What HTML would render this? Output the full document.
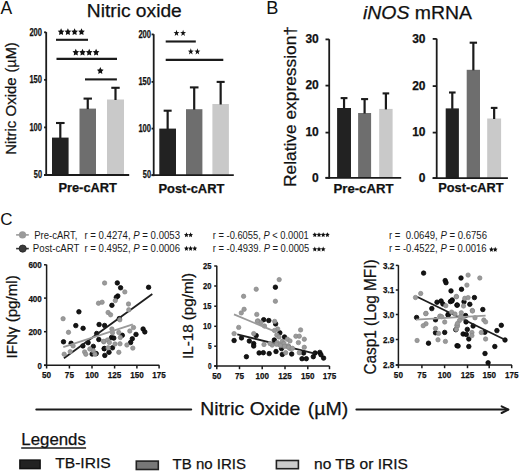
<!DOCTYPE html>
<html><head><meta charset="utf-8"><style>
html,body{margin:0;padding:0;background:#fff;}
svg{display:block;}
text{font-family:"Liberation Sans",sans-serif;stroke:#111;stroke-width:0.25px;paint-order:stroke;}
text.lg{stroke:none;}
</style></head><body>
<svg width="520" height="472" viewBox="0 0 520 472">
<rect width="520" height="472" fill="#fff"/>
<text x="0.6" y="13.7" font-size="17.5" font-weight="normal" text-anchor="start" class="lg" fill="#111" >A</text>
<text x="86.8" y="17.3" font-size="18.9" font-weight="normal" text-anchor="start" textLength="95" lengthAdjust="spacingAndGlyphs" fill="#111" >Nitric oxide</text>
<text transform="translate(16,154.8) rotate(-90)" x="0" y="0" font-size="15" font-weight="normal" fill="#111">Nitric Oxide</text>
<text transform="translate(16,72.6) rotate(-90)" x="0" y="0" font-size="15" font-weight="normal" textLength="30.2" lengthAdjust="spacingAndGlyphs" fill="#111">(µM)</text>
<rect x="52.0" y="137.6" width="16.59" height="37.40" fill="#222222"/>
<rect x="79.5" y="108.6" width="16.5" height="66.4" fill="#6e6e6e"/>
<rect x="107.0" y="99.5" width="17.0" height="75.5" fill="#c9c9c9"/>
<line x1="46.2" y1="32.09" x2="46.2" y2="175.9" stroke="#1b1b1b" stroke-width="1.8" stroke-linecap="butt"/>
<line x1="44.1" y1="175.0" x2="129.2" y2="175.0" stroke="#1b1b1b" stroke-width="1.8" stroke-linecap="butt"/>
<line x1="44.1" y1="32.3" x2="46.2" y2="32.3" stroke="#1b1b1b" stroke-width="1.8" stroke-linecap="butt"/>
<text x="42.0" y="35.5" font-size="10.2" font-weight="bold" text-anchor="end" textLength="12.6" lengthAdjust="spacingAndGlyphs" fill="#111" >200</text>
<line x1="44.1" y1="79.85" x2="46.2" y2="79.85" stroke="#1b1b1b" stroke-width="1.8" stroke-linecap="butt"/>
<text x="42.0" y="83.05" font-size="10.2" font-weight="bold" text-anchor="end" textLength="12.6" lengthAdjust="spacingAndGlyphs" fill="#111" >150</text>
<line x1="44.1" y1="127.4" x2="46.2" y2="127.4" stroke="#1b1b1b" stroke-width="1.8" stroke-linecap="butt"/>
<text x="42.0" y="130.6" font-size="10.2" font-weight="bold" text-anchor="end" textLength="12.6" lengthAdjust="spacingAndGlyphs" fill="#111" >100</text>
<line x1="44.1" y1="175.0" x2="46.2" y2="175.0" stroke="#1b1b1b" stroke-width="1.8" stroke-linecap="butt"/>
<text x="42.0" y="178.2" font-size="10.2" font-weight="bold" text-anchor="end" textLength="8.2" lengthAdjust="spacingAndGlyphs" fill="#111" >50</text>
<line x1="60.3" y1="123.0" x2="60.3" y2="138.1" stroke="#1b1b1b" stroke-width="2.2" stroke-linecap="butt"/>
<line x1="56.0" y1="123.0" x2="64.6" y2="123.0" stroke="#1b1b1b" stroke-width="2.1" stroke-linecap="butt"/>
<line x1="87.75" y1="98.6" x2="87.75" y2="109.1" stroke="#1b1b1b" stroke-width="2.2" stroke-linecap="butt"/>
<line x1="83.55" y1="98.6" x2="91.95" y2="98.6" stroke="#1b1b1b" stroke-width="2.1" stroke-linecap="butt"/>
<line x1="115.5" y1="87.8" x2="115.5" y2="100.0" stroke="#1b1b1b" stroke-width="2.2" stroke-linecap="butt"/>
<line x1="111.3" y1="87.8" x2="119.7" y2="87.8" stroke="#1b1b1b" stroke-width="2.1" stroke-linecap="butt"/>
<text x="58.4" y="192.3" font-size="12.9" font-weight="bold" text-anchor="start" textLength="58.6" lengthAdjust="spacingAndGlyphs" fill="#111" >Pre-cART</text>
<line x1="56" y1="39.8" x2="88" y2="39.8" stroke="#1b1b1b" stroke-width="2.1" stroke-linecap="butt"/>
<polygon points="61.10,28.15 62.13,30.44 64.43,30.81 62.76,32.59 63.16,35.11 61.10,33.92 59.04,35.11 59.44,32.59 57.77,30.81 60.07,30.44" fill="#111"/>
<polygon points="67.90,28.15 68.93,30.44 71.23,30.81 69.56,32.59 69.96,35.11 67.90,33.92 65.84,35.11 66.24,32.59 64.57,30.81 66.87,30.44" fill="#111"/>
<polygon points="74.60,28.15 75.63,30.44 77.93,30.81 76.26,32.59 76.66,35.11 74.60,33.92 72.54,35.11 72.94,32.59 71.27,30.81 73.57,30.44" fill="#111"/>
<polygon points="81.50,28.15 82.53,30.44 84.83,30.81 83.16,32.59 83.56,35.11 81.50,33.92 79.44,35.11 79.84,32.59 78.17,30.81 80.47,30.44" fill="#111"/>
<line x1="56.5" y1="58.9" x2="117" y2="58.9" stroke="#1b1b1b" stroke-width="2.1" stroke-linecap="butt"/>
<polygon points="75.80,48.65 76.83,50.94 79.13,51.31 77.46,53.09 77.86,55.61 75.80,54.42 73.74,55.61 74.14,53.09 72.47,51.31 74.77,50.94" fill="#111"/>
<polygon points="82.50,48.65 83.53,50.94 85.83,51.31 84.16,53.09 84.56,55.61 82.50,54.42 80.44,55.61 80.84,53.09 79.17,51.31 81.47,50.94" fill="#111"/>
<polygon points="89.20,48.65 90.23,50.94 92.53,51.31 90.86,53.09 91.26,55.61 89.20,54.42 87.14,55.61 87.54,53.09 85.87,51.31 88.17,50.94" fill="#111"/>
<polygon points="96.10,48.65 97.13,50.94 99.43,51.31 97.76,53.09 98.16,55.61 96.10,54.42 94.04,55.61 94.44,53.09 92.77,51.31 95.07,50.94" fill="#111"/>
<line x1="85" y1="79.4" x2="116.9" y2="79.4" stroke="#1b1b1b" stroke-width="2.1" stroke-linecap="butt"/>
<polygon points="100.30,67.05 101.33,69.34 103.63,69.71 101.96,71.49 102.36,74.01 100.30,72.82 98.24,74.01 98.64,71.49 96.97,69.71 99.27,69.34" fill="#111"/>
<rect x="159.3" y="128.6" width="16.69" height="46.59" fill="#222222"/>
<rect x="186.0" y="109.2" width="16.40" height="65.99" fill="#6e6e6e"/>
<rect x="212.4" y="104.0" width="16.5" height="71.19" fill="#c9c9c9"/>
<line x1="153.7" y1="34.19" x2="153.7" y2="176.1" stroke="#1b1b1b" stroke-width="1.8" stroke-linecap="butt"/>
<line x1="151.6" y1="175.2" x2="233.8" y2="175.2" stroke="#1b1b1b" stroke-width="1.8" stroke-linecap="butt"/>
<line x1="151.6" y1="34.4" x2="153.7" y2="34.4" stroke="#1b1b1b" stroke-width="1.8" stroke-linecap="butt"/>
<text x="151.0" y="37.6" font-size="10.2" font-weight="bold" text-anchor="end" textLength="12.6" lengthAdjust="spacingAndGlyphs" fill="#111" >200</text>
<line x1="151.6" y1="81.9" x2="153.7" y2="81.9" stroke="#1b1b1b" stroke-width="1.8" stroke-linecap="butt"/>
<text x="151.0" y="85.10" font-size="10.2" font-weight="bold" text-anchor="end" textLength="12.6" lengthAdjust="spacingAndGlyphs" fill="#111" >150</text>
<line x1="151.6" y1="128.6" x2="153.7" y2="128.6" stroke="#1b1b1b" stroke-width="1.8" stroke-linecap="butt"/>
<text x="151.0" y="131.79" font-size="10.2" font-weight="bold" text-anchor="end" textLength="12.6" lengthAdjust="spacingAndGlyphs" fill="#111" >100</text>
<line x1="151.6" y1="175.2" x2="153.7" y2="175.2" stroke="#1b1b1b" stroke-width="1.8" stroke-linecap="butt"/>
<text x="151.0" y="178.39" font-size="10.2" font-weight="bold" text-anchor="end" textLength="8.2" lengthAdjust="spacingAndGlyphs" fill="#111" >50</text>
<line x1="167.65" y1="110.7" x2="167.65" y2="129.1" stroke="#1b1b1b" stroke-width="2.2" stroke-linecap="butt"/>
<line x1="163.65" y1="110.7" x2="171.65" y2="110.7" stroke="#1b1b1b" stroke-width="2.1" stroke-linecap="butt"/>
<line x1="194.2" y1="87.4" x2="194.2" y2="109.7" stroke="#1b1b1b" stroke-width="2.2" stroke-linecap="butt"/>
<line x1="189.89" y1="87.4" x2="198.5" y2="87.4" stroke="#1b1b1b" stroke-width="2.1" stroke-linecap="butt"/>
<line x1="220.65" y1="81.9" x2="220.65" y2="104.5" stroke="#1b1b1b" stroke-width="2.2" stroke-linecap="butt"/>
<line x1="216.65" y1="81.9" x2="224.65" y2="81.9" stroke="#1b1b1b" stroke-width="2.1" stroke-linecap="butt"/>
<text x="158.5" y="193.2" font-size="12.9" font-weight="bold" text-anchor="start" textLength="65.8" lengthAdjust="spacingAndGlyphs" fill="#111" >Post-cART</text>
<line x1="165.7" y1="41.5" x2="195.8" y2="41.5" stroke="#1b1b1b" stroke-width="2.1" stroke-linecap="butt"/>
<polygon points="176.50,29.79 177.23,32.09 179.45,32.15 177.69,33.62 178.32,35.96 176.50,34.57 174.68,35.96 175.31,33.62 173.55,32.15 175.77,32.09" fill="#111"/>
<polygon points="183.10,29.79 183.83,32.09 186.05,32.15 184.29,33.62 184.92,35.96 183.10,34.57 181.28,35.96 181.91,33.62 180.15,32.15 182.37,32.09" fill="#111"/>
<line x1="165.7" y1="59.9" x2="223.3" y2="59.9" stroke="#1b1b1b" stroke-width="2.1" stroke-linecap="butt"/>
<polygon points="190.80,48.29 191.53,50.59 193.75,50.65 191.99,52.12 192.62,54.46 190.80,53.07 188.98,54.46 189.61,52.12 187.85,50.65 190.07,50.59" fill="#111"/>
<polygon points="197.40,48.29 198.13,50.59 200.35,50.65 198.59,52.12 199.22,54.46 197.40,53.07 195.58,54.46 196.21,52.12 194.45,50.65 196.67,50.59" fill="#111"/>
<text x="266.2" y="13.8" font-size="18.2" font-weight="normal" text-anchor="start" class="lg" fill="#111" >B</text>
<text x="363" y="18.7" font-size="19" fill="#111" textLength="109" lengthAdjust="spacingAndGlyphs"><tspan font-style="italic">iNOS</tspan> mRNA</text>
<text transform="translate(295.5,187.0) rotate(-90)" x="0" y="0" font-size="16.6" font-weight="normal" textLength="161" lengthAdjust="spacingAndGlyphs" fill="#111">Relative expression†</text>
<rect x="337.1" y="108.0" width="13.89" height="69.80" fill="#222222"/>
<rect x="358.1" y="113.0" width="13.0" height="64.80" fill="#6e6e6e"/>
<rect x="379.2" y="108.9" width="13.40" height="68.9" fill="#c9c9c9"/>
<line x1="329.2" y1="39.19" x2="329.2" y2="178.70" stroke="#1b1b1b" stroke-width="1.8" stroke-linecap="butt"/>
<line x1="325.5" y1="177.8" x2="401.2" y2="177.8" stroke="#1b1b1b" stroke-width="1.8" stroke-linecap="butt"/>
<line x1="325.5" y1="39.4" x2="329.2" y2="39.4" stroke="#1b1b1b" stroke-width="1.8" stroke-linecap="butt"/>
<text x="318.8" y="43.19" font-size="12" font-weight="bold" text-anchor="end" fill="#111" >30</text>
<line x1="325.5" y1="85.6" x2="329.2" y2="85.6" stroke="#1b1b1b" stroke-width="1.8" stroke-linecap="butt"/>
<text x="318.8" y="89.39" font-size="12" font-weight="bold" text-anchor="end" fill="#111" >20</text>
<line x1="325.5" y1="132.6" x2="329.2" y2="132.6" stroke="#1b1b1b" stroke-width="1.8" stroke-linecap="butt"/>
<text x="318.8" y="136.4" font-size="12" font-weight="bold" text-anchor="end" fill="#111" >10</text>
<line x1="325.5" y1="177.8" x2="329.2" y2="177.8" stroke="#1b1b1b" stroke-width="1.8" stroke-linecap="butt"/>
<text x="318.8" y="181.60" font-size="12" font-weight="bold" text-anchor="end" fill="#111" >0</text>
<line x1="344.05" y1="98.1" x2="344.05" y2="108.5" stroke="#1b1b1b" stroke-width="2.2" stroke-linecap="butt"/>
<line x1="340.65" y1="98.1" x2="347.45" y2="98.1" stroke="#1b1b1b" stroke-width="2.1" stroke-linecap="butt"/>
<line x1="364.6" y1="99.1" x2="364.6" y2="113.5" stroke="#1b1b1b" stroke-width="2.2" stroke-linecap="butt"/>
<line x1="361.1" y1="99.1" x2="368.1" y2="99.1" stroke="#1b1b1b" stroke-width="2.1" stroke-linecap="butt"/>
<line x1="385.9" y1="93.4" x2="385.9" y2="109.4" stroke="#1b1b1b" stroke-width="2.2" stroke-linecap="butt"/>
<line x1="382.59" y1="93.4" x2="389.2" y2="93.4" stroke="#1b1b1b" stroke-width="2.1" stroke-linecap="butt"/>
<text x="333.5" y="193.2" font-size="13" font-weight="bold" text-anchor="start" textLength="60" lengthAdjust="spacingAndGlyphs" fill="#111" >Pre-cART</text>
<rect x="445.7" y="108.4" width="13.19" height="69.69" fill="#222222"/>
<rect x="466.7" y="69.8" width="13.30" height="108.3" fill="#6e6e6e"/>
<rect x="487.2" y="118.5" width="13.90" height="59.59" fill="#c9c9c9"/>
<line x1="436.7" y1="38.69" x2="436.7" y2="179.0" stroke="#1b1b1b" stroke-width="1.8" stroke-linecap="butt"/>
<line x1="432.7" y1="178.1" x2="507.9" y2="178.1" stroke="#1b1b1b" stroke-width="1.8" stroke-linecap="butt"/>
<line x1="432.7" y1="38.9" x2="436.7" y2="38.9" stroke="#1b1b1b" stroke-width="1.8" stroke-linecap="butt"/>
<text x="425.5" y="42.69" font-size="12" font-weight="bold" text-anchor="end" fill="#111" >30</text>
<line x1="432.7" y1="86.1" x2="436.7" y2="86.1" stroke="#1b1b1b" stroke-width="1.8" stroke-linecap="butt"/>
<text x="425.5" y="89.89" font-size="12" font-weight="bold" text-anchor="end" fill="#111" >20</text>
<line x1="432.7" y1="132.6" x2="436.7" y2="132.6" stroke="#1b1b1b" stroke-width="1.8" stroke-linecap="butt"/>
<text x="425.5" y="136.4" font-size="12" font-weight="bold" text-anchor="end" fill="#111" >10</text>
<line x1="432.7" y1="178.1" x2="436.7" y2="178.1" stroke="#1b1b1b" stroke-width="1.8" stroke-linecap="butt"/>
<text x="425.5" y="181.9" font-size="12" font-weight="bold" text-anchor="end" fill="#111" >0</text>
<line x1="452.29" y1="92.5" x2="452.29" y2="108.9" stroke="#1b1b1b" stroke-width="2.2" stroke-linecap="butt"/>
<line x1="448.99" y1="92.5" x2="455.59" y2="92.5" stroke="#1b1b1b" stroke-width="2.1" stroke-linecap="butt"/>
<line x1="473.35" y1="42.7" x2="473.35" y2="70.3" stroke="#1b1b1b" stroke-width="2.2" stroke-linecap="butt"/>
<line x1="469.65" y1="42.7" x2="477.05" y2="42.7" stroke="#1b1b1b" stroke-width="2.1" stroke-linecap="butt"/>
<line x1="494.15" y1="107.9" x2="494.15" y2="119.0" stroke="#1b1b1b" stroke-width="2.2" stroke-linecap="butt"/>
<line x1="490.84" y1="107.9" x2="497.45" y2="107.9" stroke="#1b1b1b" stroke-width="2.1" stroke-linecap="butt"/>
<text x="438.3" y="192.3" font-size="12.9" font-weight="bold" text-anchor="start" textLength="65.2" lengthAdjust="spacingAndGlyphs" fill="#111" >Post-cART</text>
<text x="0.3" y="225.3" font-size="17" font-weight="normal" text-anchor="start" class="lg" fill="#111" >C</text>
<line x1="16.1" y1="234.9" x2="28.8" y2="234.9" stroke="#9a9a9a" stroke-width="1.6" stroke-linecap="butt"/>
<circle cx="22.5" cy="234.9" r="3.6" fill="#9a9a9a"/>
<line x1="16.1" y1="248.6" x2="28.8" y2="248.6" stroke="#333" stroke-width="1.6" stroke-linecap="butt"/>
<circle cx="22.7" cy="248.6" r="3.6" fill="#3a3a3a" stroke="#222" stroke-width="0.8"/>
<text x="34.3" y="238.6" font-size="10.4" font-weight="normal" text-anchor="start" textLength="43" lengthAdjust="spacingAndGlyphs" class="lg" fill="#1a1a1a" >Pre-cART,</text>
<text x="32.8" y="252.4" font-size="10.4" font-weight="normal" text-anchor="start" textLength="46.6" lengthAdjust="spacingAndGlyphs" class="lg" fill="#1a1a1a" >Post-cART</text>
<text x="84.4" y="238.6" font-size="10.4" font-weight="normal" text-anchor="start" textLength="95.6" lengthAdjust="spacingAndGlyphs" class="lg" fill="#1a1a1a" >r = 0.4274, <tspan font-style="italic">P</tspan> = 0.0053</text>
<text x="84.4" y="252.2" font-size="10.4" font-weight="normal" text-anchor="start" textLength="95.6" lengthAdjust="spacingAndGlyphs" class="lg" fill="#1a1a1a" >r = 0.4952, <tspan font-style="italic">P</tspan> = 0.0006</text>
<polygon points="186.40,232.25 187.11,233.93 188.78,234.15 187.54,235.41 187.87,237.22 186.40,236.32 184.93,237.22 185.26,235.41 184.02,234.15 185.69,233.93" fill="#111"/>
<polygon points="190.60,232.25 191.31,233.93 192.98,234.15 191.74,235.41 192.07,237.22 190.60,236.32 189.13,237.22 189.46,235.41 188.22,234.15 189.89,233.93" fill="#111"/>
<polygon points="186.40,245.85 187.11,247.53 188.78,247.75 187.54,249.01 187.87,250.82 186.40,249.92 184.93,250.82 185.26,249.01 184.02,247.75 185.69,247.53" fill="#111"/>
<polygon points="190.60,245.85 191.31,247.53 192.98,247.75 191.74,249.01 192.07,250.82 190.60,249.92 189.13,250.82 189.46,249.01 188.22,247.75 189.89,247.53" fill="#111"/>
<polygon points="194.80,245.85 195.51,247.53 197.18,247.75 195.94,249.01 196.27,250.82 194.80,249.92 193.33,250.82 193.66,249.01 192.42,247.75 194.09,247.53" fill="#111"/>
<text x="212.8" y="238.8" font-size="10.4" font-weight="normal" text-anchor="start" textLength="96" lengthAdjust="spacingAndGlyphs" class="lg" fill="#1a1a1a" >r = -0.6055, <tspan font-style="italic">P</tspan> &lt; 0.0001</text>
<text x="212.8" y="252.4" font-size="10.4" font-weight="normal" text-anchor="start" textLength="96.5" lengthAdjust="spacingAndGlyphs" class="lg" fill="#1a1a1a" >r = -0.4939. <tspan font-style="italic">P</tspan> = 0.0005</text>
<polygon points="314.80,232.15 315.51,233.83 317.18,234.05 315.94,235.31 316.27,237.12 314.80,236.22 313.33,237.12 313.66,235.31 312.42,234.05 314.09,233.83" fill="#111"/>
<polygon points="319.00,232.15 319.71,233.83 321.38,234.05 320.14,235.31 320.47,237.12 319.00,236.22 317.53,237.12 317.86,235.31 316.62,234.05 318.29,233.83" fill="#111"/>
<polygon points="323.20,232.15 323.91,233.83 325.58,234.05 324.34,235.31 324.67,237.12 323.20,236.22 321.73,237.12 322.06,235.31 320.82,234.05 322.49,233.83" fill="#111"/>
<polygon points="327.40,232.15 328.11,233.83 329.78,234.05 328.54,235.31 328.87,237.12 327.40,236.22 325.93,237.12 326.26,235.31 325.02,234.05 326.69,233.83" fill="#111"/>
<polygon points="314.80,246.55 315.51,248.23 317.18,248.45 315.94,249.71 316.27,251.52 314.80,250.62 313.33,251.52 313.66,249.71 312.42,248.45 314.09,248.23" fill="#111"/>
<polygon points="319.00,246.55 319.71,248.23 321.38,248.45 320.14,249.71 320.47,251.52 319.00,250.62 317.53,251.52 317.86,249.71 316.62,248.45 318.29,248.23" fill="#111"/>
<polygon points="323.20,246.55 323.91,248.23 325.58,248.45 324.34,249.71 324.67,251.52 323.20,250.62 321.73,251.52 322.06,249.71 320.82,248.45 322.49,248.23" fill="#111"/>
<text x="389.0" y="239.3" font-size="10.4" font-weight="normal" text-anchor="start" textLength="98" lengthAdjust="spacingAndGlyphs" class="lg" fill="#1a1a1a" >r =&#160; 0.0649, <tspan font-style="italic">P</tspan> = 0.6756</text>
<text x="389.0" y="252.4" font-size="10.4" font-weight="normal" text-anchor="start" textLength="97.5" lengthAdjust="spacingAndGlyphs" class="lg" fill="#1a1a1a" >r = -0.4522, <tspan font-style="italic">P</tspan> = 0.0016</text>
<polygon points="491.40,246.85 492.11,248.53 493.78,248.75 492.54,250.01 492.87,251.82 491.40,250.92 489.93,251.82 490.26,250.01 489.02,248.75 490.69,248.53" fill="#111"/>
<polygon points="495.20,246.85 495.91,248.53 497.58,248.75 496.34,250.01 496.67,251.82 495.20,250.92 493.73,251.82 494.06,250.01 492.82,248.75 494.49,248.53" fill="#111"/>
<text transform="translate(17.3,358.5) rotate(-90)" x="0" y="0" font-size="14.8" font-weight="normal" textLength="83.2" lengthAdjust="spacingAndGlyphs" fill="#111">IFNγ (pg/ml)</text>
<line x1="46.6" y1="264.6" x2="46.6" y2="366.0" stroke="#1b1b1b" stroke-width="1.5" stroke-linecap="butt"/>
<line x1="44.0" y1="365.3" x2="159.3" y2="365.3" stroke="#1b1b1b" stroke-width="1.5" stroke-linecap="butt"/>
<line x1="44.0" y1="264.8" x2="46.6" y2="264.8" stroke="#1b1b1b" stroke-width="1.5" stroke-linecap="butt"/>
<text x="41.8" y="268.25" font-size="9.6" font-weight="bold" text-anchor="end" textLength="13.4" lengthAdjust="spacingAndGlyphs" fill="#111" >600</text>
<line x1="44.0" y1="298.1" x2="46.6" y2="298.1" stroke="#1b1b1b" stroke-width="1.5" stroke-linecap="butt"/>
<text x="41.8" y="301.55" font-size="9.6" font-weight="bold" text-anchor="end" textLength="13.4" lengthAdjust="spacingAndGlyphs" fill="#111" >400</text>
<line x1="44.0" y1="331.7" x2="46.6" y2="331.7" stroke="#1b1b1b" stroke-width="1.5" stroke-linecap="butt"/>
<text x="41.8" y="335.15" font-size="9.6" font-weight="bold" text-anchor="end" textLength="13.4" lengthAdjust="spacingAndGlyphs" fill="#111" >200</text>
<line x1="44.0" y1="365.3" x2="46.6" y2="365.3" stroke="#1b1b1b" stroke-width="1.5" stroke-linecap="butt"/>
<text x="41.8" y="368.75" font-size="9.6" font-weight="bold" text-anchor="end" textLength="4.4" lengthAdjust="spacingAndGlyphs" fill="#111" >0</text>
<line x1="46.6" y1="365.3" x2="46.6" y2="368.5" stroke="#1b1b1b" stroke-width="1.5" stroke-linecap="butt"/>
<text x="46.6" y="378.40" font-size="9.6" font-weight="bold" text-anchor="middle" textLength="9.10" lengthAdjust="spacingAndGlyphs" fill="#111" >50</text>
<line x1="69.4" y1="365.3" x2="69.4" y2="368.5" stroke="#1b1b1b" stroke-width="1.5" stroke-linecap="butt"/>
<text x="69.4" y="378.40" font-size="9.6" font-weight="bold" text-anchor="middle" textLength="9.10" lengthAdjust="spacingAndGlyphs" fill="#111" >75</text>
<line x1="92.0" y1="365.3" x2="92.0" y2="368.5" stroke="#1b1b1b" stroke-width="1.5" stroke-linecap="butt"/>
<text x="92.0" y="378.40" font-size="9.6" font-weight="bold" text-anchor="middle" textLength="13.50" lengthAdjust="spacingAndGlyphs" fill="#111" >100</text>
<line x1="114.6" y1="365.3" x2="114.6" y2="368.5" stroke="#1b1b1b" stroke-width="1.5" stroke-linecap="butt"/>
<text x="114.6" y="378.40" font-size="9.6" font-weight="bold" text-anchor="middle" textLength="13.50" lengthAdjust="spacingAndGlyphs" fill="#111" >125</text>
<line x1="136.9" y1="365.3" x2="136.9" y2="368.5" stroke="#1b1b1b" stroke-width="1.5" stroke-linecap="butt"/>
<text x="136.9" y="378.40" font-size="9.6" font-weight="bold" text-anchor="middle" textLength="13.50" lengthAdjust="spacingAndGlyphs" fill="#111" >150</text>
<line x1="159.1" y1="365.3" x2="159.1" y2="368.5" stroke="#1b1b1b" stroke-width="1.5" stroke-linecap="butt"/>
<text x="159.1" y="378.40" font-size="9.6" font-weight="bold" text-anchor="middle" textLength="13.50" lengthAdjust="spacingAndGlyphs" fill="#111" >175</text>
<circle cx="117.3" cy="282.9" r="2.25" fill="#151515" stroke="#050505" stroke-width="0.8"/>
<circle cx="120.6" cy="287.8" r="2.25" fill="#151515" stroke="#050505" stroke-width="0.8"/>
<circle cx="148.6" cy="287.3" r="2.25" fill="#151515" stroke="#050505" stroke-width="0.8"/>
<circle cx="117.8" cy="296" r="2.25" fill="#151515" stroke="#050505" stroke-width="0.8"/>
<circle cx="116.3" cy="297.3" r="2.25" fill="#151515" stroke="#050505" stroke-width="0.8"/>
<circle cx="111.9" cy="305.3" r="2.25" fill="#151515" stroke="#050505" stroke-width="0.8"/>
<circle cx="119.3" cy="318.6" r="2.25" fill="#151515" stroke="#050505" stroke-width="0.8"/>
<circle cx="78.9" cy="311.8" r="2.25" fill="#151515" stroke="#050505" stroke-width="0.8"/>
<circle cx="75.8" cy="325.6" r="2.25" fill="#151515" stroke="#050505" stroke-width="0.8"/>
<circle cx="83.1" cy="328.3" r="2.25" fill="#151515" stroke="#050505" stroke-width="0.8"/>
<circle cx="99.1" cy="324.5" r="2.25" fill="#151515" stroke="#050505" stroke-width="0.8"/>
<circle cx="104.6" cy="325.5" r="2.25" fill="#151515" stroke="#050505" stroke-width="0.8"/>
<circle cx="96.7" cy="333.5" r="2.25" fill="#151515" stroke="#050505" stroke-width="0.8"/>
<circle cx="98.8" cy="339.5" r="2.25" fill="#151515" stroke="#050505" stroke-width="0.8"/>
<circle cx="63.5" cy="341.8" r="2.25" fill="#151515" stroke="#050505" stroke-width="0.8"/>
<circle cx="71.1" cy="343.3" r="2.25" fill="#151515" stroke="#050505" stroke-width="0.8"/>
<circle cx="88.1" cy="342.7" r="2.25" fill="#151515" stroke="#050505" stroke-width="0.8"/>
<circle cx="82.9" cy="345.9" r="2.25" fill="#151515" stroke="#050505" stroke-width="0.8"/>
<circle cx="93.3" cy="346.4" r="2.25" fill="#151515" stroke="#050505" stroke-width="0.8"/>
<circle cx="92.1" cy="354" r="2.25" fill="#151515" stroke="#050505" stroke-width="0.8"/>
<circle cx="96.2" cy="353.6" r="2.25" fill="#151515" stroke="#050505" stroke-width="0.8"/>
<circle cx="104.2" cy="348.7" r="2.25" fill="#151515" stroke="#050505" stroke-width="0.8"/>
<circle cx="104.8" cy="355.4" r="2.25" fill="#151515" stroke="#050505" stroke-width="0.8"/>
<circle cx="143.1" cy="329" r="2.25" fill="#151515" stroke="#050505" stroke-width="0.8"/>
<circle cx="144.8" cy="331.9" r="2.25" fill="#151515" stroke="#050505" stroke-width="0.8"/>
<circle cx="122.3" cy="335.3" r="2.25" fill="#151515" stroke="#050505" stroke-width="0.8"/>
<circle cx="136" cy="334.4" r="2.25" fill="#151515" stroke="#050505" stroke-width="0.8"/>
<circle cx="111.5" cy="337.5" r="2.25" fill="#151515" stroke="#050505" stroke-width="0.8"/>
<circle cx="113.8" cy="338.1" r="2.25" fill="#151515" stroke="#050505" stroke-width="0.8"/>
<circle cx="132.3" cy="338.8" r="2.25" fill="#151515" stroke="#050505" stroke-width="0.8"/>
<circle cx="130.6" cy="342.5" r="2.25" fill="#151515" stroke="#050505" stroke-width="0.8"/>
<circle cx="112.5" cy="347.8" r="2.25" fill="#151515" stroke="#050505" stroke-width="0.8"/>
<circle cx="104.4" cy="348.5" r="2.25" fill="#151515" stroke="#050505" stroke-width="0.8"/>
<circle cx="109" cy="352.3" r="2.25" fill="#151515" stroke="#050505" stroke-width="0.8"/>
<line x1="63.9" y1="358.3" x2="152.3" y2="294.1" stroke="#1e1e1e" stroke-width="1.8" stroke-linecap="butt"/>
<circle cx="104.6" cy="283" r="2.2" fill="#9a9a9a" stroke="#888" stroke-width="0.7"/>
<circle cx="98.5" cy="303.2" r="2.2" fill="#9a9a9a" stroke="#888" stroke-width="0.7"/>
<circle cx="102.1" cy="302.2" r="2.2" fill="#9a9a9a" stroke="#888" stroke-width="0.7"/>
<circle cx="63.1" cy="318.7" r="2.2" fill="#9a9a9a" stroke="#888" stroke-width="0.7"/>
<circle cx="124.8" cy="291.9" r="2.2" fill="#9a9a9a" stroke="#888" stroke-width="0.7"/>
<circle cx="115.3" cy="300.6" r="2.2" fill="#9a9a9a" stroke="#888" stroke-width="0.7"/>
<circle cx="128.5" cy="304" r="2.2" fill="#9a9a9a" stroke="#888" stroke-width="0.7"/>
<circle cx="128.8" cy="309.8" r="2.2" fill="#9a9a9a" stroke="#888" stroke-width="0.7"/>
<circle cx="108.1" cy="312.5" r="2.2" fill="#9a9a9a" stroke="#888" stroke-width="0.7"/>
<circle cx="110.6" cy="314.8" r="2.2" fill="#9a9a9a" stroke="#888" stroke-width="0.7"/>
<circle cx="68.5" cy="332.3" r="2.2" fill="#9a9a9a" stroke="#888" stroke-width="0.7"/>
<circle cx="73.1" cy="345.9" r="2.2" fill="#9a9a9a" stroke="#888" stroke-width="0.7"/>
<circle cx="84.6" cy="351.9" r="2.2" fill="#9a9a9a" stroke="#888" stroke-width="0.7"/>
<circle cx="89.8" cy="349" r="2.2" fill="#9a9a9a" stroke="#888" stroke-width="0.7"/>
<circle cx="93.3" cy="350.8" r="2.2" fill="#9a9a9a" stroke="#888" stroke-width="0.7"/>
<circle cx="85.8" cy="354.2" r="2.2" fill="#9a9a9a" stroke="#888" stroke-width="0.7"/>
<circle cx="95" cy="354.2" r="2.2" fill="#9a9a9a" stroke="#888" stroke-width="0.7"/>
<circle cx="70.2" cy="351.7" r="2.2" fill="#9a9a9a" stroke="#888" stroke-width="0.7"/>
<circle cx="64.2" cy="354.2" r="2.2" fill="#9a9a9a" stroke="#888" stroke-width="0.7"/>
<circle cx="103.7" cy="341.8" r="2.2" fill="#9a9a9a" stroke="#888" stroke-width="0.7"/>
<circle cx="119.8" cy="319.8" r="2.2" fill="#9a9a9a" stroke="#888" stroke-width="0.7"/>
<circle cx="111.9" cy="329" r="2.2" fill="#9a9a9a" stroke="#888" stroke-width="0.7"/>
<circle cx="133.5" cy="327.5" r="2.2" fill="#9a9a9a" stroke="#888" stroke-width="0.7"/>
<circle cx="129.8" cy="331" r="2.2" fill="#9a9a9a" stroke="#888" stroke-width="0.7"/>
<circle cx="112.5" cy="332.8" r="2.2" fill="#9a9a9a" stroke="#888" stroke-width="0.7"/>
<circle cx="118.8" cy="332.5" r="2.2" fill="#9a9a9a" stroke="#888" stroke-width="0.7"/>
<circle cx="120.3" cy="337.5" r="2.2" fill="#9a9a9a" stroke="#888" stroke-width="0.7"/>
<circle cx="103.8" cy="341.3" r="2.2" fill="#9a9a9a" stroke="#888" stroke-width="0.7"/>
<circle cx="107.5" cy="340" r="2.2" fill="#9a9a9a" stroke="#888" stroke-width="0.7"/>
<circle cx="109.4" cy="342.5" r="2.2" fill="#9a9a9a" stroke="#888" stroke-width="0.7"/>
<circle cx="115" cy="344" r="2.2" fill="#9a9a9a" stroke="#888" stroke-width="0.7"/>
<circle cx="120" cy="343.8" r="2.2" fill="#9a9a9a" stroke="#888" stroke-width="0.7"/>
<circle cx="126.9" cy="345" r="2.2" fill="#9a9a9a" stroke="#888" stroke-width="0.7"/>
<circle cx="108.1" cy="347.8" r="2.2" fill="#9a9a9a" stroke="#888" stroke-width="0.7"/>
<circle cx="132.8" cy="348.1" r="2.2" fill="#9a9a9a" stroke="#888" stroke-width="0.7"/>
<circle cx="118.8" cy="352.3" r="2.2" fill="#9a9a9a" stroke="#888" stroke-width="0.7"/>
<line x1="63.3" y1="347.1" x2="132.8" y2="324.4" stroke="#9a9a9a" stroke-width="1.8" stroke-linecap="butt"/>
<text transform="translate(193.3,359.0) rotate(-90)" x="0" y="0" font-size="15" font-weight="normal" textLength="86" lengthAdjust="spacingAndGlyphs" fill="#111">IL-18 (pg/ml)</text>
<line x1="216.8" y1="265.8" x2="216.8" y2="366.7" stroke="#1b1b1b" stroke-width="1.5" stroke-linecap="butt"/>
<line x1="214.20" y1="366.0" x2="329.5" y2="366.0" stroke="#1b1b1b" stroke-width="1.5" stroke-linecap="butt"/>
<line x1="214.20" y1="266.0" x2="216.8" y2="266.0" stroke="#1b1b1b" stroke-width="1.5" stroke-linecap="butt"/>
<text x="211.5" y="269.16" font-size="8.8" font-weight="bold" text-anchor="end" textLength="8.4" lengthAdjust="spacingAndGlyphs" fill="#111" >25</text>
<line x1="214.20" y1="286.0" x2="216.8" y2="286.0" stroke="#1b1b1b" stroke-width="1.5" stroke-linecap="butt"/>
<text x="211.5" y="289.16" font-size="8.8" font-weight="bold" text-anchor="end" textLength="8.4" lengthAdjust="spacingAndGlyphs" fill="#111" >20</text>
<line x1="214.20" y1="306.2" x2="216.8" y2="306.2" stroke="#1b1b1b" stroke-width="1.5" stroke-linecap="butt"/>
<text x="211.5" y="309.36" font-size="8.8" font-weight="bold" text-anchor="end" textLength="8.4" lengthAdjust="spacingAndGlyphs" fill="#111" >15</text>
<line x1="214.20" y1="326.3" x2="216.8" y2="326.3" stroke="#1b1b1b" stroke-width="1.5" stroke-linecap="butt"/>
<text x="211.5" y="329.46" font-size="8.8" font-weight="bold" text-anchor="end" textLength="8.4" lengthAdjust="spacingAndGlyphs" fill="#111" >10</text>
<line x1="214.20" y1="346.2" x2="216.8" y2="346.2" stroke="#1b1b1b" stroke-width="1.5" stroke-linecap="butt"/>
<text x="211.5" y="349.36" font-size="8.8" font-weight="bold" text-anchor="end" textLength="3.6" lengthAdjust="spacingAndGlyphs" fill="#111" >5</text>
<line x1="214.20" y1="366.0" x2="216.8" y2="366.0" stroke="#1b1b1b" stroke-width="1.5" stroke-linecap="butt"/>
<text x="211.5" y="369.16" font-size="8.8" font-weight="bold" text-anchor="end" textLength="3.6" lengthAdjust="spacingAndGlyphs" fill="#111" >0</text>
<line x1="216.8" y1="366.0" x2="216.8" y2="369.2" stroke="#1b1b1b" stroke-width="1.5" stroke-linecap="butt"/>
<text x="216.8" y="379.1" font-size="9.6" font-weight="bold" text-anchor="middle" textLength="9.10" lengthAdjust="spacingAndGlyphs" fill="#111" >50</text>
<line x1="239.5" y1="366.0" x2="239.5" y2="369.2" stroke="#1b1b1b" stroke-width="1.5" stroke-linecap="butt"/>
<text x="239.5" y="379.1" font-size="9.6" font-weight="bold" text-anchor="middle" textLength="9.10" lengthAdjust="spacingAndGlyphs" fill="#111" >75</text>
<line x1="262.2" y1="366.0" x2="262.2" y2="369.2" stroke="#1b1b1b" stroke-width="1.5" stroke-linecap="butt"/>
<text x="262.2" y="379.1" font-size="9.6" font-weight="bold" text-anchor="middle" textLength="13.50" lengthAdjust="spacingAndGlyphs" fill="#111" >100</text>
<line x1="285.0" y1="366.0" x2="285.0" y2="369.2" stroke="#1b1b1b" stroke-width="1.5" stroke-linecap="butt"/>
<text x="285.0" y="379.1" font-size="9.6" font-weight="bold" text-anchor="middle" textLength="13.50" lengthAdjust="spacingAndGlyphs" fill="#111" >125</text>
<line x1="307.8" y1="366.0" x2="307.8" y2="369.2" stroke="#1b1b1b" stroke-width="1.5" stroke-linecap="butt"/>
<text x="307.8" y="379.1" font-size="9.6" font-weight="bold" text-anchor="middle" textLength="13.50" lengthAdjust="spacingAndGlyphs" fill="#111" >150</text>
<line x1="329.5" y1="366.0" x2="329.5" y2="369.2" stroke="#1b1b1b" stroke-width="1.5" stroke-linecap="butt"/>
<text x="329.5" y="379.1" font-size="9.6" font-weight="bold" text-anchor="middle" textLength="13.50" lengthAdjust="spacingAndGlyphs" fill="#111" >175</text>
<circle cx="275.4" cy="287.2" r="2.25" fill="#151515" stroke="#050505" stroke-width="0.8"/>
<circle cx="256.2" cy="335.6" r="2.25" fill="#151515" stroke="#050505" stroke-width="0.8"/>
<circle cx="241.5" cy="337.9" r="2.25" fill="#151515" stroke="#050505" stroke-width="0.8"/>
<circle cx="234.1" cy="340.5" r="2.25" fill="#151515" stroke="#050505" stroke-width="0.8"/>
<circle cx="249.3" cy="341" r="2.25" fill="#151515" stroke="#050505" stroke-width="0.8"/>
<circle cx="253.7" cy="343.6" r="2.25" fill="#151515" stroke="#050505" stroke-width="0.8"/>
<circle cx="253.7" cy="346" r="2.25" fill="#151515" stroke="#050505" stroke-width="0.8"/>
<circle cx="259.1" cy="352.9" r="2.25" fill="#151515" stroke="#050505" stroke-width="0.8"/>
<circle cx="246.4" cy="356.7" r="2.25" fill="#151515" stroke="#050505" stroke-width="0.8"/>
<circle cx="303.6" cy="353" r="2.25" fill="#151515" stroke="#050505" stroke-width="0.8"/>
<circle cx="302" cy="358.7" r="2.25" fill="#151515" stroke="#050505" stroke-width="0.8"/>
<circle cx="306.3" cy="358.7" r="2.25" fill="#151515" stroke="#050505" stroke-width="0.8"/>
<circle cx="315.1" cy="353" r="2.25" fill="#151515" stroke="#050505" stroke-width="0.8"/>
<circle cx="319.8" cy="352.4" r="2.25" fill="#151515" stroke="#050505" stroke-width="0.8"/>
<circle cx="313.3" cy="356.7" r="2.25" fill="#151515" stroke="#050505" stroke-width="0.8"/>
<circle cx="323.6" cy="358.1" r="2.25" fill="#151515" stroke="#050505" stroke-width="0.8"/>
<circle cx="320.9" cy="354.7" r="2.25" fill="#151515" stroke="#050505" stroke-width="0.8"/>
<circle cx="268.8" cy="320.5" r="2.25" fill="#151515" stroke="#050505" stroke-width="0.8"/>
<circle cx="263.7" cy="319.7" r="2.25" fill="#151515" stroke="#050505" stroke-width="0.8"/>
<circle cx="275.6" cy="323.9" r="2.25" fill="#151515" stroke="#050505" stroke-width="0.8"/>
<circle cx="279.8" cy="332.8" r="2.25" fill="#151515" stroke="#050505" stroke-width="0.8"/>
<circle cx="284.5" cy="337" r="2.25" fill="#151515" stroke="#050505" stroke-width="0.8"/>
<circle cx="274.3" cy="340" r="2.25" fill="#151515" stroke="#050505" stroke-width="0.8"/>
<circle cx="276" cy="351.5" r="2.25" fill="#151515" stroke="#050505" stroke-width="0.8"/>
<circle cx="281.5" cy="348.5" r="2.25" fill="#151515" stroke="#050505" stroke-width="0.8"/>
<circle cx="282.3" cy="354.4" r="2.25" fill="#151515" stroke="#050505" stroke-width="0.8"/>
<circle cx="269.2" cy="353.6" r="2.25" fill="#151515" stroke="#050505" stroke-width="0.8"/>
<circle cx="263.3" cy="352.7" r="2.25" fill="#151515" stroke="#050505" stroke-width="0.8"/>
<circle cx="291.7" cy="354" r="2.25" fill="#151515" stroke="#050505" stroke-width="0.8"/>
<circle cx="288.3" cy="346.4" r="2.25" fill="#151515" stroke="#050505" stroke-width="0.8"/>
<line x1="237.3" y1="334.4" x2="315.0" y2="353.7" stroke="#1e1e1e" stroke-width="1.8" stroke-linecap="butt"/>
<circle cx="243.6" cy="296.3" r="2.2" fill="#9a9a9a" stroke="#888" stroke-width="0.7"/>
<circle cx="256.2" cy="289.2" r="2.2" fill="#9a9a9a" stroke="#888" stroke-width="0.7"/>
<circle cx="279.2" cy="279.6" r="2.2" fill="#9a9a9a" stroke="#888" stroke-width="0.7"/>
<circle cx="275.4" cy="301.2" r="2.2" fill="#9a9a9a" stroke="#888" stroke-width="0.7"/>
<circle cx="244.1" cy="309.3" r="2.2" fill="#9a9a9a" stroke="#888" stroke-width="0.7"/>
<circle cx="241.3" cy="312.9" r="2.2" fill="#9a9a9a" stroke="#888" stroke-width="0.7"/>
<circle cx="256.8" cy="314.4" r="2.2" fill="#9a9a9a" stroke="#888" stroke-width="0.7"/>
<circle cx="258" cy="320.9" r="2.2" fill="#9a9a9a" stroke="#888" stroke-width="0.7"/>
<circle cx="260.8" cy="322.7" r="2.2" fill="#9a9a9a" stroke="#888" stroke-width="0.7"/>
<circle cx="238.7" cy="327.4" r="2.2" fill="#9a9a9a" stroke="#888" stroke-width="0.7"/>
<circle cx="234.1" cy="333.6" r="2.2" fill="#9a9a9a" stroke="#888" stroke-width="0.7"/>
<circle cx="253.7" cy="333.6" r="2.2" fill="#9a9a9a" stroke="#888" stroke-width="0.7"/>
<circle cx="257.4" cy="321.2" r="2.2" fill="#9a9a9a" stroke="#888" stroke-width="0.7"/>
<circle cx="304.3" cy="339.2" r="2.2" fill="#9a9a9a" stroke="#888" stroke-width="0.7"/>
<circle cx="304.3" cy="347.3" r="2.2" fill="#9a9a9a" stroke="#888" stroke-width="0.7"/>
<circle cx="274.7" cy="321.4" r="2.2" fill="#9a9a9a" stroke="#888" stroke-width="0.7"/>
<circle cx="264.5" cy="326" r="2.2" fill="#9a9a9a" stroke="#888" stroke-width="0.7"/>
<circle cx="277.7" cy="329" r="2.2" fill="#9a9a9a" stroke="#888" stroke-width="0.7"/>
<circle cx="276.8" cy="335" r="2.2" fill="#9a9a9a" stroke="#888" stroke-width="0.7"/>
<circle cx="279" cy="337" r="2.2" fill="#9a9a9a" stroke="#888" stroke-width="0.7"/>
<circle cx="287.4" cy="339.2" r="2.2" fill="#9a9a9a" stroke="#888" stroke-width="0.7"/>
<circle cx="290" cy="340.9" r="2.2" fill="#9a9a9a" stroke="#888" stroke-width="0.7"/>
<circle cx="282.3" cy="341.3" r="2.2" fill="#9a9a9a" stroke="#888" stroke-width="0.7"/>
<circle cx="277.3" cy="342.6" r="2.2" fill="#9a9a9a" stroke="#888" stroke-width="0.7"/>
<circle cx="272.2" cy="345.1" r="2.2" fill="#9a9a9a" stroke="#888" stroke-width="0.7"/>
<circle cx="279" cy="344.3" r="2.2" fill="#9a9a9a" stroke="#888" stroke-width="0.7"/>
<circle cx="284" cy="343.4" r="2.2" fill="#9a9a9a" stroke="#888" stroke-width="0.7"/>
<circle cx="288.3" cy="346" r="2.2" fill="#9a9a9a" stroke="#888" stroke-width="0.7"/>
<circle cx="290" cy="348.5" r="2.2" fill="#9a9a9a" stroke="#888" stroke-width="0.7"/>
<circle cx="285.7" cy="352.7" r="2.2" fill="#9a9a9a" stroke="#888" stroke-width="0.7"/>
<circle cx="295.9" cy="336.2" r="2.2" fill="#9a9a9a" stroke="#888" stroke-width="0.7"/>
<circle cx="299.3" cy="336.2" r="2.2" fill="#9a9a9a" stroke="#888" stroke-width="0.7"/>
<circle cx="300.6" cy="329.9" r="2.2" fill="#9a9a9a" stroke="#888" stroke-width="0.7"/>
<circle cx="298.4" cy="342.6" r="2.2" fill="#9a9a9a" stroke="#888" stroke-width="0.7"/>
<circle cx="299.3" cy="352.7" r="2.2" fill="#9a9a9a" stroke="#888" stroke-width="0.7"/>
<circle cx="264" cy="344.5" r="2.2" fill="#9a9a9a" stroke="#888" stroke-width="0.7"/>
<circle cx="274.5" cy="330.5" r="2.2" fill="#9a9a9a" stroke="#888" stroke-width="0.7"/>
<circle cx="270" cy="343.5" r="2.2" fill="#9a9a9a" stroke="#888" stroke-width="0.7"/>
<circle cx="276.5" cy="344.2" r="2.2" fill="#9a9a9a" stroke="#888" stroke-width="0.7"/>
<circle cx="280.5" cy="345.6" r="2.2" fill="#9a9a9a" stroke="#888" stroke-width="0.7"/>
<circle cx="284.5" cy="346.4" r="2.2" fill="#9a9a9a" stroke="#888" stroke-width="0.7"/>
<circle cx="288.6" cy="347.3" r="2.2" fill="#9a9a9a" stroke="#888" stroke-width="0.7"/>
<circle cx="292.4" cy="348.3" r="2.2" fill="#9a9a9a" stroke="#888" stroke-width="0.7"/>
<line x1="234.0" y1="314.4" x2="274.0" y2="331.2" stroke="#9a9a9a" stroke-width="1.8" stroke-linecap="butt"/>
<text transform="translate(375.5,374.6) rotate(-90)" x="0" y="0" font-size="15.8" font-weight="normal" textLength="115.2" lengthAdjust="spacingAndGlyphs" fill="#111">Casp1 (Log MFI)</text>
<line x1="398.4" y1="265.2" x2="398.4" y2="365.7" stroke="#1b1b1b" stroke-width="1.5" stroke-linecap="butt"/>
<line x1="395.79" y1="365.0" x2="511.9" y2="365.0" stroke="#1b1b1b" stroke-width="1.5" stroke-linecap="butt"/>
<line x1="395.79" y1="265.4" x2="398.4" y2="265.4" stroke="#1b1b1b" stroke-width="1.5" stroke-linecap="butt"/>
<text x="394.2" y="268.78" font-size="9.4" font-weight="bold" text-anchor="end" textLength="11.2" lengthAdjust="spacingAndGlyphs" fill="#111" >3.2</text>
<line x1="395.79" y1="290.0" x2="398.4" y2="290.0" stroke="#1b1b1b" stroke-width="1.5" stroke-linecap="butt"/>
<text x="394.2" y="293.38" font-size="9.4" font-weight="bold" text-anchor="end" textLength="11.2" lengthAdjust="spacingAndGlyphs" fill="#111" >3.1</text>
<line x1="395.79" y1="314.5" x2="398.4" y2="314.5" stroke="#1b1b1b" stroke-width="1.5" stroke-linecap="butt"/>
<text x="394.2" y="317.88" font-size="9.4" font-weight="bold" text-anchor="end" textLength="11.2" lengthAdjust="spacingAndGlyphs" fill="#111" >3.0</text>
<line x1="395.79" y1="339.5" x2="398.4" y2="339.5" stroke="#1b1b1b" stroke-width="1.5" stroke-linecap="butt"/>
<text x="394.2" y="342.88" font-size="9.4" font-weight="bold" text-anchor="end" textLength="11.2" lengthAdjust="spacingAndGlyphs" fill="#111" >2.9</text>
<line x1="395.79" y1="365.0" x2="398.4" y2="365.0" stroke="#1b1b1b" stroke-width="1.5" stroke-linecap="butt"/>
<text x="394.2" y="368.38" font-size="9.4" font-weight="bold" text-anchor="end" textLength="11.2" lengthAdjust="spacingAndGlyphs" fill="#111" >2.8</text>
<line x1="398.4" y1="365.0" x2="398.4" y2="368.2" stroke="#1b1b1b" stroke-width="1.5" stroke-linecap="butt"/>
<text x="398.4" y="378.1" font-size="9.6" font-weight="bold" text-anchor="middle" textLength="9.10" lengthAdjust="spacingAndGlyphs" fill="#111" >50</text>
<line x1="421.9" y1="365.0" x2="421.9" y2="368.2" stroke="#1b1b1b" stroke-width="1.5" stroke-linecap="butt"/>
<text x="421.9" y="378.1" font-size="9.6" font-weight="bold" text-anchor="middle" textLength="9.10" lengthAdjust="spacingAndGlyphs" fill="#111" >75</text>
<line x1="444.6" y1="365.0" x2="444.6" y2="368.2" stroke="#1b1b1b" stroke-width="1.5" stroke-linecap="butt"/>
<text x="444.6" y="378.1" font-size="9.6" font-weight="bold" text-anchor="middle" textLength="13.50" lengthAdjust="spacingAndGlyphs" fill="#111" >100</text>
<line x1="467.5" y1="365.0" x2="467.5" y2="368.2" stroke="#1b1b1b" stroke-width="1.5" stroke-linecap="butt"/>
<text x="467.5" y="378.1" font-size="9.6" font-weight="bold" text-anchor="middle" textLength="13.50" lengthAdjust="spacingAndGlyphs" fill="#111" >125</text>
<line x1="489.2" y1="365.0" x2="489.2" y2="368.2" stroke="#1b1b1b" stroke-width="1.5" stroke-linecap="butt"/>
<text x="489.2" y="378.1" font-size="9.6" font-weight="bold" text-anchor="middle" textLength="13.50" lengthAdjust="spacingAndGlyphs" fill="#111" >150</text>
<line x1="511.7" y1="365.0" x2="511.7" y2="368.2" stroke="#1b1b1b" stroke-width="1.5" stroke-linecap="butt"/>
<text x="511.7" y="378.1" font-size="9.6" font-weight="bold" text-anchor="middle" textLength="13.50" lengthAdjust="spacingAndGlyphs" fill="#111" >175</text>
<circle cx="423.6" cy="273.1" r="2.25" fill="#151515" stroke="#050505" stroke-width="0.8"/>
<circle cx="445.2" cy="280.6" r="2.25" fill="#151515" stroke="#050505" stroke-width="0.8"/>
<circle cx="446" cy="282.7" r="2.25" fill="#151515" stroke="#050505" stroke-width="0.8"/>
<circle cx="451" cy="290.9" r="2.25" fill="#151515" stroke="#050505" stroke-width="0.8"/>
<circle cx="437" cy="302.2" r="2.25" fill="#151515" stroke="#050505" stroke-width="0.8"/>
<circle cx="441.1" cy="301" r="2.25" fill="#151515" stroke="#050505" stroke-width="0.8"/>
<circle cx="450.4" cy="301.6" r="2.25" fill="#151515" stroke="#050505" stroke-width="0.8"/>
<circle cx="452.2" cy="299.9" r="2.25" fill="#151515" stroke="#050505" stroke-width="0.8"/>
<circle cx="442.9" cy="304" r="2.25" fill="#151515" stroke="#050505" stroke-width="0.8"/>
<circle cx="456.9" cy="305.1" r="2.25" fill="#151515" stroke="#050505" stroke-width="0.8"/>
<circle cx="431.8" cy="308.6" r="2.25" fill="#151515" stroke="#050505" stroke-width="0.8"/>
<circle cx="448.1" cy="314.4" r="2.25" fill="#151515" stroke="#050505" stroke-width="0.8"/>
<circle cx="416.6" cy="317.5" r="2.25" fill="#151515" stroke="#050505" stroke-width="0.8"/>
<circle cx="461" cy="278" r="2.25" fill="#151515" stroke="#050505" stroke-width="0.8"/>
<circle cx="461.5" cy="289.3" r="2.25" fill="#151515" stroke="#050505" stroke-width="0.8"/>
<circle cx="474.4" cy="297.6" r="2.25" fill="#151515" stroke="#050505" stroke-width="0.8"/>
<circle cx="451.9" cy="301" r="2.25" fill="#151515" stroke="#050505" stroke-width="0.8"/>
<circle cx="464" cy="301.8" r="2.25" fill="#151515" stroke="#050505" stroke-width="0.8"/>
<circle cx="457.3" cy="305.1" r="2.25" fill="#151515" stroke="#050505" stroke-width="0.8"/>
<circle cx="469.8" cy="304.3" r="2.25" fill="#151515" stroke="#050505" stroke-width="0.8"/>
<circle cx="482.8" cy="309.5" r="2.25" fill="#151515" stroke="#050505" stroke-width="0.8"/>
<circle cx="435.5" cy="319.8" r="2.25" fill="#151515" stroke="#050505" stroke-width="0.8"/>
<circle cx="448.2" cy="315.2" r="2.25" fill="#151515" stroke="#050505" stroke-width="0.8"/>
<circle cx="455.8" cy="329.7" r="2.25" fill="#151515" stroke="#050505" stroke-width="0.8"/>
<circle cx="435.5" cy="332.8" r="2.25" fill="#151515" stroke="#050505" stroke-width="0.8"/>
<circle cx="444.7" cy="332.4" r="2.25" fill="#151515" stroke="#050505" stroke-width="0.8"/>
<circle cx="428.5" cy="343.2" r="2.25" fill="#151515" stroke="#050505" stroke-width="0.8"/>
<circle cx="457" cy="345.7" r="2.25" fill="#151515" stroke="#050505" stroke-width="0.8"/>
<circle cx="465.6" cy="315.6" r="2.25" fill="#151515" stroke="#050505" stroke-width="0.8"/>
<circle cx="466" cy="321.9" r="2.25" fill="#151515" stroke="#050505" stroke-width="0.8"/>
<circle cx="473.1" cy="326" r="2.25" fill="#151515" stroke="#050505" stroke-width="0.8"/>
<circle cx="501.3" cy="325.3" r="2.25" fill="#151515" stroke="#050505" stroke-width="0.8"/>
<circle cx="467.3" cy="329.4" r="2.25" fill="#151515" stroke="#050505" stroke-width="0.8"/>
<circle cx="496.9" cy="330.6" r="2.25" fill="#151515" stroke="#050505" stroke-width="0.8"/>
<circle cx="484.8" cy="332.3" r="2.25" fill="#151515" stroke="#050505" stroke-width="0.8"/>
<circle cx="463.1" cy="334" r="2.25" fill="#151515" stroke="#050505" stroke-width="0.8"/>
<circle cx="466.3" cy="334.4" r="2.25" fill="#151515" stroke="#050505" stroke-width="0.8"/>
<circle cx="468.8" cy="339" r="2.25" fill="#151515" stroke="#050505" stroke-width="0.8"/>
<circle cx="505" cy="340" r="2.25" fill="#151515" stroke="#050505" stroke-width="0.8"/>
<circle cx="458.1" cy="346" r="2.25" fill="#151515" stroke="#050505" stroke-width="0.8"/>
<circle cx="468.8" cy="346.5" r="2.25" fill="#151515" stroke="#050505" stroke-width="0.8"/>
<circle cx="494.8" cy="346.5" r="2.25" fill="#151515" stroke="#050505" stroke-width="0.8"/>
<circle cx="485" cy="353.5" r="2.25" fill="#151515" stroke="#050505" stroke-width="0.8"/>
<circle cx="488.1" cy="362.8" r="2.25" fill="#151515" stroke="#050505" stroke-width="0.8"/>
<line x1="417.0" y1="296.8" x2="505.0" y2="339.8" stroke="#1e1e1e" stroke-width="1.8" stroke-linecap="butt"/>
<circle cx="420.7" cy="293.5" r="2.2" fill="#9a9a9a" stroke="#888" stroke-width="0.7"/>
<circle cx="415.5" cy="297.5" r="2.2" fill="#9a9a9a" stroke="#888" stroke-width="0.7"/>
<circle cx="456.3" cy="296.4" r="2.2" fill="#9a9a9a" stroke="#888" stroke-width="0.7"/>
<circle cx="445.8" cy="305.7" r="2.2" fill="#9a9a9a" stroke="#888" stroke-width="0.7"/>
<circle cx="426" cy="313.3" r="2.2" fill="#9a9a9a" stroke="#888" stroke-width="0.7"/>
<circle cx="451.6" cy="312.1" r="2.2" fill="#9a9a9a" stroke="#888" stroke-width="0.7"/>
<circle cx="440.5" cy="316.2" r="2.2" fill="#9a9a9a" stroke="#888" stroke-width="0.7"/>
<circle cx="468.1" cy="275.1" r="2.2" fill="#9a9a9a" stroke="#888" stroke-width="0.7"/>
<circle cx="479.8" cy="278" r="2.2" fill="#9a9a9a" stroke="#888" stroke-width="0.7"/>
<circle cx="466.9" cy="285.1" r="2.2" fill="#9a9a9a" stroke="#888" stroke-width="0.7"/>
<circle cx="456.5" cy="296.8" r="2.2" fill="#9a9a9a" stroke="#888" stroke-width="0.7"/>
<circle cx="464.8" cy="298.3" r="2.2" fill="#9a9a9a" stroke="#888" stroke-width="0.7"/>
<circle cx="468.1" cy="297.6" r="2.2" fill="#9a9a9a" stroke="#888" stroke-width="0.7"/>
<circle cx="463.5" cy="306" r="2.2" fill="#9a9a9a" stroke="#888" stroke-width="0.7"/>
<circle cx="472.3" cy="310.5" r="2.2" fill="#9a9a9a" stroke="#888" stroke-width="0.7"/>
<circle cx="461.3" cy="312.8" r="2.2" fill="#9a9a9a" stroke="#888" stroke-width="0.7"/>
<circle cx="425.7" cy="313.7" r="2.2" fill="#9a9a9a" stroke="#888" stroke-width="0.7"/>
<circle cx="439.8" cy="316.2" r="2.2" fill="#9a9a9a" stroke="#888" stroke-width="0.7"/>
<circle cx="441.7" cy="316.8" r="2.2" fill="#9a9a9a" stroke="#888" stroke-width="0.7"/>
<circle cx="444.7" cy="322" r="2.2" fill="#9a9a9a" stroke="#888" stroke-width="0.7"/>
<circle cx="426" cy="323.8" r="2.2" fill="#9a9a9a" stroke="#888" stroke-width="0.7"/>
<circle cx="423.2" cy="325.7" r="2.2" fill="#9a9a9a" stroke="#888" stroke-width="0.7"/>
<circle cx="435.5" cy="328.5" r="2.2" fill="#9a9a9a" stroke="#888" stroke-width="0.7"/>
<circle cx="456.8" cy="325.4" r="2.2" fill="#9a9a9a" stroke="#888" stroke-width="0.7"/>
<circle cx="438.6" cy="333.4" r="2.2" fill="#9a9a9a" stroke="#888" stroke-width="0.7"/>
<circle cx="417.1" cy="340.5" r="2.2" fill="#9a9a9a" stroke="#888" stroke-width="0.7"/>
<circle cx="438" cy="339.8" r="2.2" fill="#9a9a9a" stroke="#888" stroke-width="0.7"/>
<circle cx="445.4" cy="341.4" r="2.2" fill="#9a9a9a" stroke="#888" stroke-width="0.7"/>
<circle cx="472.5" cy="311" r="2.2" fill="#9a9a9a" stroke="#888" stroke-width="0.7"/>
<circle cx="462.5" cy="318.1" r="2.2" fill="#9a9a9a" stroke="#888" stroke-width="0.7"/>
<circle cx="475" cy="317.8" r="2.2" fill="#9a9a9a" stroke="#888" stroke-width="0.7"/>
<circle cx="483.8" cy="320" r="2.2" fill="#9a9a9a" stroke="#888" stroke-width="0.7"/>
<circle cx="485.6" cy="321.9" r="2.2" fill="#9a9a9a" stroke="#888" stroke-width="0.7"/>
<circle cx="457.5" cy="326" r="2.2" fill="#9a9a9a" stroke="#888" stroke-width="0.7"/>
<circle cx="456.3" cy="329.4" r="2.2" fill="#9a9a9a" stroke="#888" stroke-width="0.7"/>
<circle cx="471.9" cy="332.5" r="2.2" fill="#9a9a9a" stroke="#888" stroke-width="0.7"/>
<circle cx="481.3" cy="332.5" r="2.2" fill="#9a9a9a" stroke="#888" stroke-width="0.7"/>
<circle cx="471.9" cy="335.6" r="2.2" fill="#9a9a9a" stroke="#888" stroke-width="0.7"/>
<circle cx="485.6" cy="339" r="2.2" fill="#9a9a9a" stroke="#888" stroke-width="0.7"/>
<circle cx="455" cy="314" r="2.2" fill="#9a9a9a" stroke="#888" stroke-width="0.7"/>
<circle cx="460.5" cy="316.5" r="2.2" fill="#9a9a9a" stroke="#888" stroke-width="0.7"/>
<circle cx="459.5" cy="320.5" r="2.2" fill="#9a9a9a" stroke="#888" stroke-width="0.7"/>
<circle cx="457.5" cy="323.5" r="2.2" fill="#9a9a9a" stroke="#888" stroke-width="0.7"/>
<line x1="415.8" y1="319.6" x2="485.6" y2="315.6" stroke="#9a9a9a" stroke-width="1.8" stroke-linecap="butt"/>
<line x1="36.3" y1="409.6" x2="191.2" y2="409.6" stroke="#1b1b1b" stroke-width="2.0" stroke-linecap="round"/>
<text x="200.2" y="415" font-size="18.2" font-weight="normal" text-anchor="start" textLength="100.1" lengthAdjust="spacingAndGlyphs" fill="#111" >Nitric Oxide</text>
<text x="307.7" y="415" font-size="18.2" font-weight="normal" text-anchor="start" textLength="40.6" lengthAdjust="spacingAndGlyphs" fill="#111" >(µM)</text>
<line x1="356.4" y1="409.6" x2="508.0" y2="409.6" stroke="#1b1b1b" stroke-width="2.0" stroke-linecap="round"/>
<polyline points="501.6,406.3 508.4,409.6 501.6,413.0" fill="none" stroke="#1b1b1b" stroke-width="2.0" stroke-linecap="round" stroke-linejoin="round"/>
<text x="21.3" y="444.6" font-size="15.8" font-weight="normal" text-anchor="start" textLength="64.6" lengthAdjust="spacingAndGlyphs" fill="#111" >Legends</text>
<line x1="21.2" y1="448" x2="86.1" y2="448" stroke="#1b1b1b" stroke-width="1.5" stroke-linecap="butt"/>
<rect x="19.9" y="460.1" width="20.2" height="8.5" fill="#222" stroke="#111" stroke-width="1.5"/>
<text x="55.2" y="468.3" font-size="15.2" font-weight="normal" text-anchor="start" textLength="55.6" lengthAdjust="spacingAndGlyphs" fill="#111" >TB-IRIS</text>
<rect x="136.3" y="461.1" width="22.0" height="8.4" fill="#777" stroke="#222" stroke-width="1.6"/>
<text x="172.6" y="468.6" font-size="15.0" font-weight="normal" text-anchor="start" textLength="73.3" lengthAdjust="spacingAndGlyphs" fill="#111" >TB no IRIS</text>
<rect x="276.4" y="460.5" width="22.0" height="8.2" fill="#cccccc" stroke="#222" stroke-width="1.6"/>
<text x="314.0" y="468.6" font-size="15.2" font-weight="normal" text-anchor="start" textLength="94" lengthAdjust="spacingAndGlyphs" fill="#111" >no TB or IRIS</text>
</svg>
</body></html>
